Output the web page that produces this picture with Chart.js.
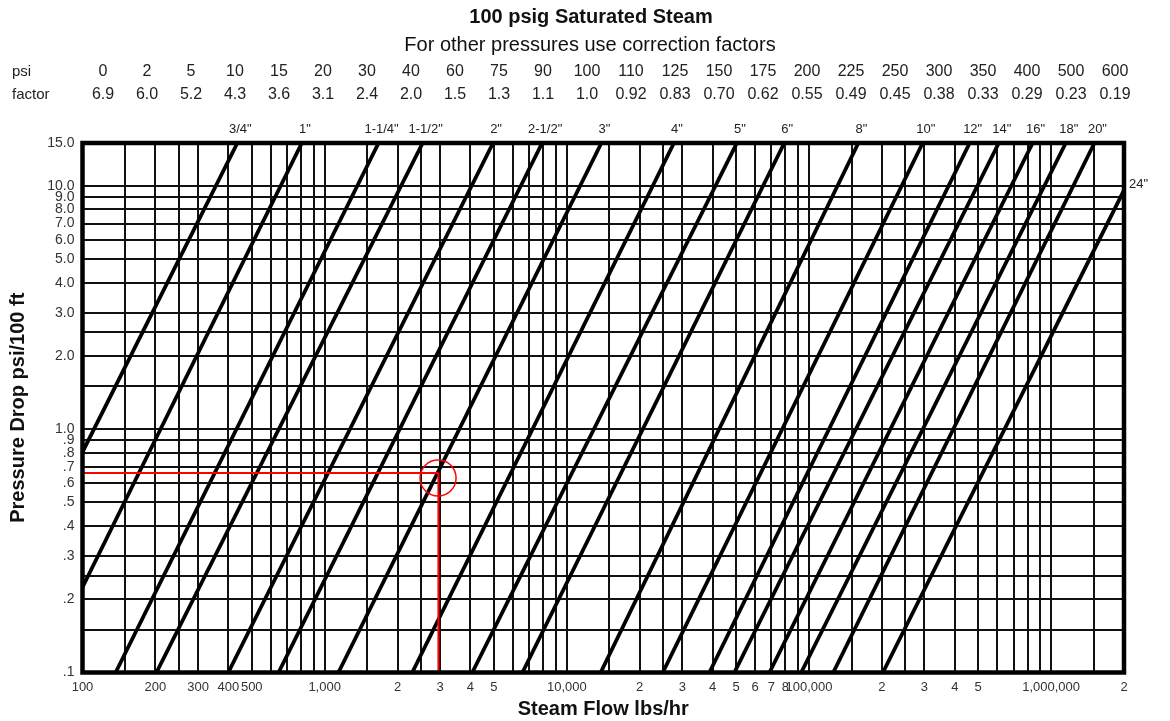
<!DOCTYPE html>
<html>
<head>
<meta charset="utf-8">
<title>100 psig Saturated Steam</title>
<script src="https://cdn.jsdelivr.net/npm/chart.js@4.4.1/dist/chart.umd.min.js"></script>
<style>
    html, body { margin: 0; padding: 0; background: #fff; }
</style>
</head>
<body>
<canvas id="steam-chart" width="1170" height="721"></canvas>
<script>
// 補正係数の表
const psiValues = ['0', '2', '5', '10', '15', '20', '30', '40', '60', '75', '90', '100',
    '110', '125', '150', '175', '200', '225', '250', '300', '350', '400', '500', '600'];
const factorValues = ['6.9', '6.0', '5.2', '4.3', '3.6', '3.1', '2.4', '2.0', '1.5', '1.3', '1.1', '1.0',
    '0.92', '0.83', '0.70', '0.62', '0.55', '0.49', '0.45', '0.38', '0.33', '0.29', '0.23', '0.19'];

// パイプサイズごとの直線 (下端と上端の値)
const pipeSizes = ['3/4"', '1"', '1-1/4"', '1-1/2"', '2"', '2-1/2"', '3"', '4"', '5"', '6"',
    '8"', '10"', '12"', '14"', '16"', '18"', '20"', '24"'];
const lowFlow = [100, 100, 137, 202, 400, 645, 1140, 2300, 4070, 6560,
    13800, 24900, 38800, 49200, 68700, 92900, 126000, 202000];
const lowDrop = [0.805, 0.224, 0.1, 0.1, 0.1, 0.1, 0.1, 0.1, 0.1, 0.1,
    0.1, 0.1, 0.1, 0.1, 0.1, 0.1, 0.1, 0.1];
const highFlow = [436, 805, 1670, 2540, 4960, 7910, 13900, 27700, 50400, 79100,
    160000, 295000, 461000, 608000, 839000, 1150000, 1510000, 2000000];
const highDrop = [15, 15, 15, 15, 15, 15, 15, 15, 15, 15,
    15, 15, 15, 15, 15, 15, 15, 9.6];

// 例 (赤線)
const exampleFlow = 2950;
const exampleDrop = 0.66;
const circleFlow = 2940;
const circleDrop = 0.63;

// 軸の範囲とグリッド
const flowMin = 100;
const flowMax = 2000000;
const dropMin = 0.1;
const dropMax = 15;
const xGrid = [];
[100, 1000, 10000, 100000, 1000000].forEach(d => {
    [1, 1.5, 2, 2.5, 3, 4, 5, 6, 7, 8, 9].forEach(m => {
        let v = Math.round(d * m);
        if (v <= flowMax) xGrid.push(v);
    });
});
const xLabelValues = [100, 200, 300, 400, 500, 1000, 2000, 3000, 4000, 5000, 10000,
    20000, 30000, 40000, 50000, 60000, 70000, 80000, 100000,
    200000, 300000, 400000, 500000, 1000000, 2000000];
const xLabelTexts = ['100', '200', '300', '400', '500', '1,000', '2', '3', '4', '5', '10,000',
    '2', '3', '4', '5', '6', '7', '8', '100,000',
    '2', '3', '4', '5', '1,000,000', '2'];
const yGrid = [0.1, 0.15, 0.2, 0.25, 0.3, 0.4, 0.5, 0.6, 0.7, 0.8, 0.9,
    1, 1.5, 2, 2.5, 3, 4, 5, 6, 7, 8, 9, 10, 15];
const yLabelValues = [0.1, 0.2, 0.3, 0.4, 0.5, 0.6, 0.7, 0.8, 0.9,
    1, 2, 3, 4, 5, 6, 7, 8, 9, 10, 15];
const yLabelTexts = ['.1', '.2', '.3', '.4', '.5', '.6', '.7', '.8', '.9',
    '1.0', '2.0', '3.0', '4.0', '5.0', '6.0', '7.0', '8.0', '9.0', '10.0', '15.0'];

const fontName = '"Liberation Sans", Arial, Helvetica, sans-serif';

// データセットを作る
let datasets = [];
datasets.push({
    data: [{x: flowMin, y: exampleDrop}, {x: exampleFlow, y: exampleDrop}],
    borderColor: '#ff0000', borderWidth: 2, pointRadius: 0
});
datasets.push({
    data: [{x: exampleFlow, y: exampleDrop}, {x: exampleFlow, y: dropMin}],
    borderColor: '#ff0000', borderWidth: 2, pointRadius: 0
});
datasets.push({
    data: [{x: circleFlow, y: circleDrop}],
    showLine: false,
    pointRadius: 18,
    pointBorderWidth: 1.5,
    pointBorderColor: '#ff0000',
    pointBackgroundColor: 'rgba(0,0,0,0)'
});
pipeSizes.forEach((size, i) => {
    datasets.push({
        label: size,
        data: [{x: lowFlow[i], y: lowDrop[i]}, {x: highFlow[i], y: highDrop[i]}],
        borderColor: '#000',
        borderWidth: 3.8,
        pointRadius: 0
    });
});

// 見出し・表・枠・サイズ表示
const steamText = {
    id: 'steamText',
    afterDraw(chart) {
        const ctx = chart.ctx;
        const area = chart.chartArea;
        const x = chart.scales.x;
        const y = chart.scales.y;
        ctx.save();
        ctx.fillStyle = '#111';
        ctx.textAlign = 'center';
        ctx.textBaseline = 'middle';
        ctx.font = 'bold 20px ' + fontName;
        ctx.fillText('100 psig Saturated Steam', 591, 17);
        ctx.font = '20px ' + fontName;
        ctx.fillText('For other pressures use correction factors', 590, 45);

        ctx.fillStyle = '#222';
        ctx.textAlign = 'left';
        ctx.font = '15px ' + fontName;
        ctx.fillText('psi', 12, 72);
        ctx.fillText('factor', 12, 95);
        ctx.textAlign = 'center';
        ctx.font = '16px ' + fontName;
        psiValues.forEach((p, i) => {
            let cx = 103 + i * 44;
            ctx.fillText(p, cx, 72);
            ctx.fillText(factorValues[i], cx, 95);
        });

        // 枠
        ctx.lineWidth = 4.5;
        ctx.strokeStyle = '#000';
        ctx.strokeRect(area.left, area.top, area.right - area.left, area.bottom - area.top);

        // パイプサイズ
        ctx.font = '13px ' + fontName;
        ctx.fillStyle = '#222';
        pipeSizes.forEach((size, i) => {
            if (highDrop[i] >= dropMax) {
                ctx.textAlign = 'center';
                ctx.fillText(size, x.getPixelForValue(highFlow[i]) + 3, area.top - 14);
            } else {
                ctx.textAlign = 'left';
                ctx.fillText(size, area.right + 5, y.getPixelForValue(highDrop[i]) - 6);
            }
        });
        ctx.restore();
    }
};

const ctx = document.getElementById('steam-chart');
const myChart = new Chart(ctx, {
    type: 'line',
    data: { datasets: datasets },
    options: {
        responsive: false,
        animation: false,
        layout: { padding: { top: 143, left: 4, right: 46, bottom: 0 } },
        plugins: {
            legend: { display: false },
            tooltip: { enabled: false }
        },
        scales: {
            x: {
                type: 'logarithmic',
                min: flowMin,
                max: flowMax,
                afterBuildTicks: (scale) => {
                    scale.ticks = xGrid.map(v => ({ value: v }));
                },
                afterFit: (scale) => { scale.height = 48.5; },
                grid: { color: '#111', lineWidth: 2, drawTicks: false },
                border: { display: false },
                ticks: {
                    autoSkip: false,
                    maxRotation: 0,
                    padding: 7,
                    color: '#333',
                    font: { family: fontName, size: 13 },
                    callback: (value) => {
                        let idx = xLabelValues.indexOf(value);
                        return idx >= 0 ? xLabelTexts[idx] : '';
                    }
                },
                title: {
                    display: true,
                    text: 'Steam Flow lbs/hr',
                    color: '#111',
                    padding: { top: 0, bottom: 0 },
                    font: { family: fontName, size: 20, weight: 'bold' }
                }
            },
            y: {
                type: 'logarithmic',
                min: dropMin,
                max: dropMax,
                afterBuildTicks: (scale) => {
                    scale.ticks = yGrid.map(v => ({ value: v }));
                },
                afterFit: (scale) => { scale.width = 78.5; },
                grid: { color: '#111', lineWidth: 2, drawTicks: false },
                border: { display: false },
                ticks: {
                    autoSkip: false,
                    padding: 8,
                    color: '#333',
                    font: { family: fontName, size: 14 },
                    callback: (value) => {
                        let idx = yLabelValues.indexOf(value);
                        return idx >= 0 ? yLabelTexts[idx] : '';
                    }
                },
                title: {
                    display: true,
                    text: 'Pressure Drop psi/100 ft',
                    color: '#111',
                    padding: { top: 2, bottom: 0 },
                    font: { family: fontName, size: 20, weight: 'bold' }
                }
            }
        }
    },
    plugins: [steamText]
});
</script>
</body>
</html>
